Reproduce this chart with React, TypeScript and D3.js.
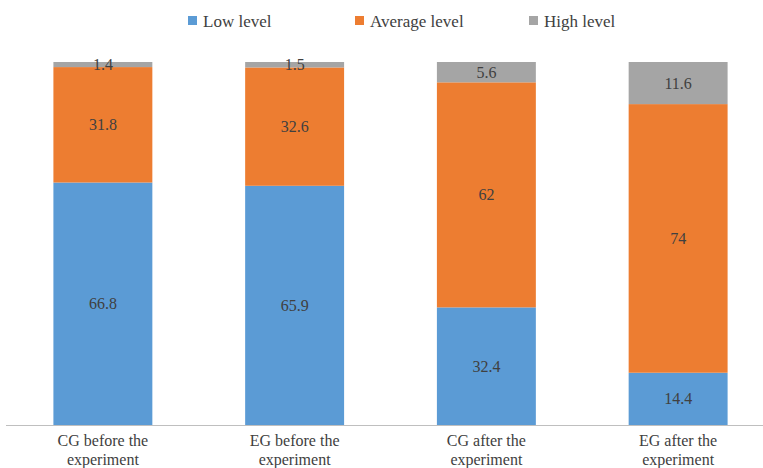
import * as d3 from 'd3';
import { useEffect, useRef } from 'react';

const categories = [
  ['CG before the', 'experiment'],
  ['EG before the', 'experiment'],
  ['CG after the', 'experiment'],
  ['EG after the', 'experiment'],
];
const seriesNames = ['Low level', 'Average level', 'High level'];
const seriesColors = ['#5B9BD5', '#ED7D31', '#A5A5A5'];
const lowLevel = [66.8, 65.9, 32.4, 14.4];
const averageLevel = [31.8, 32.6, 62, 74];
const highLevel = [1.4, 1.5, 5.6, 11.6];

const WIDTH = 763;
const HEIGHT = 468;

export default function App() {
  const svgRef = useRef<SVGSVGElement>(null);

  useEffect(() => {
    if (!svgRef.current) return;
    const svg = d3.select(svgRef.current);
    svg.selectAll('*').remove();

    const textColor = '#404040';
    const plotTop = 62;
    const plotBottom = 425;

    const rows = categories.map((c, i) => ({
      key: String(i),
      low: lowLevel[i],
      avg: averageLevel[i],
      high: highLevel[i],
    }));
    const keys = ['low', 'avg', 'high'];
    const stacked = d3.stack<any>().keys(keys)(rows);

    const x = d3
      .scaleBand()
      .domain(rows.map((r) => r.key))
      .range([7, 774])
      .paddingInner(0.484)
      .paddingOuter(0.242);
    const y = d3.scaleLinear().domain([0, 100]).range([plotBottom, plotTop]);

    // bars
    stacked.forEach((layer, li) => {
      const g = svg.append('g');
      g.selectAll('rect')
        .data(layer)
        .enter()
        .append('rect')
        .attr('x', (d) => x(d.data.key)!)
        .attr('width', x.bandwidth())
        .attr('y', (d) => y(d[1]))
        .attr('height', (d) => y(d[0]) - y(d[1]))
        .attr('fill', seriesColors[li]);
      g.selectAll('text')
        .data(layer)
        .enter()
        .append('text')
        .attr('x', (d) => x(d.data.key)! + x.bandwidth() / 2)
        .attr('y', (d) => (y(d[0]) + y(d[1])) / 2)
        .attr('dy', '0.35em')
        .attr('text-anchor', 'middle')
        .attr('font-size', 16)
        .attr('fill', textColor)
        .text((d) => String(+(d[1] - d[0]).toFixed(1)));
    });

    // axis line
    svg
      .append('line')
      .attr('x1', 6)
      .attr('x2', WIDTH)
      .attr('y1', plotBottom + 0.5)
      .attr('y2', plotBottom + 0.5)
      .attr('stroke', '#BFBFBF')
      .attr('stroke-width', 1);

    // category labels
    categories.forEach((lines, i) => {
      const cx = x(String(i))! + x.bandwidth() / 2;
      lines.forEach((line, j) => {
        svg
          .append('text')
          .attr('x', cx)
          .attr('y', 446 + j * 19)
          .attr('text-anchor', 'middle')
          .attr('font-size', 16)
          .attr('fill', textColor)
          .text(line);
      });
    });

    // legend
    const legendX = [188, 355, 529];
    seriesNames.forEach((name, i) => {
      svg
        .append('rect')
        .attr('x', legendX[i])
        .attr('y', 16)
        .attr('width', 9)
        .attr('height', 9)
        .attr('fill', seriesColors[i]);
      svg
        .append('text')
        .attr('x', legendX[i] + 15)
        .attr('y', 27)
        .attr('font-size', 17)
        .attr('fill', textColor)
        .text(name);
    });
  }, []);

  return (
    <svg
      ref={svgRef}
      width={WIDTH}
      height={HEIGHT}
      style={{
        position: 'fixed',
        left: 0,
        top: 0,
        background: '#fff',
        fontFamily: "'Liberation Serif', 'DejaVu Serif', serif",
      }}
    />
  );
}
